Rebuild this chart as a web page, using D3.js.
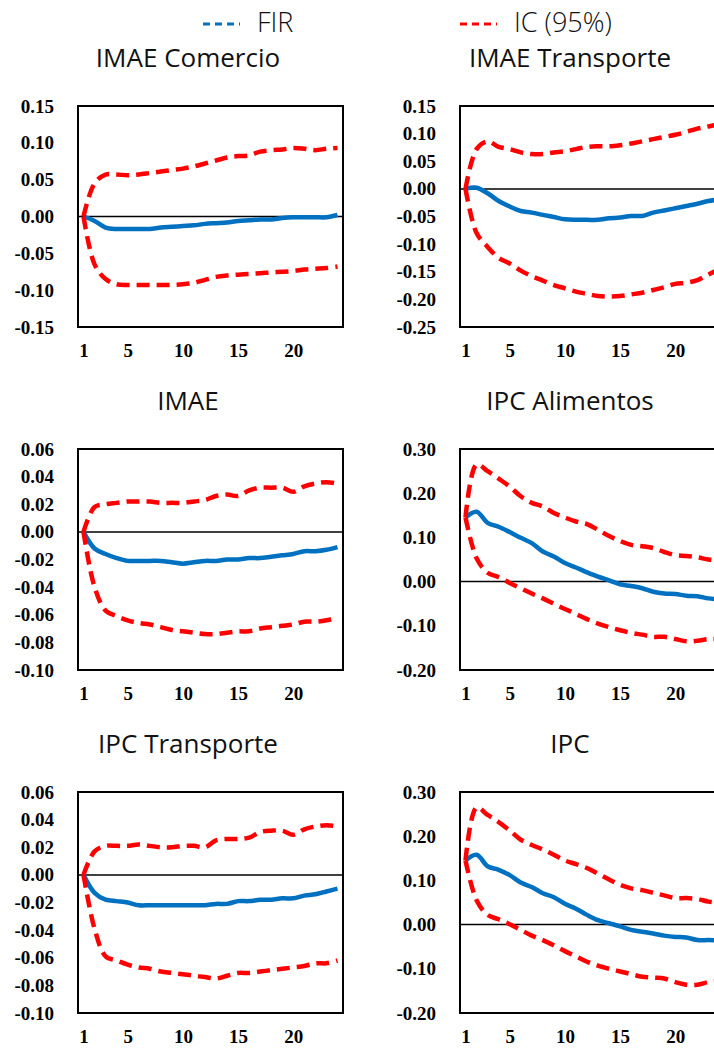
<!DOCTYPE html>
<html><head><meta charset="utf-8">
<script src="https://cdn.jsdelivr.net/npm/d3@7/dist/d3.min.js"></script>
<style>body{margin:0;background:#fff}</style>
</head><body><svg id="c" width="714" height="1051"></svg>
<script>
// ---------- data ----------
const periods = d3.range(1, 25);
const xTickLabels = [1, 5, 10, 15, 20];
const seriesNames = ["FIR", "IC (95%)"];
const titles = ["IMAE Comercio", "IMAE Transporte", "IMAE", "IPC Alimentos", "IPC Transporte", "IPC"];

const yTicksImaeComercio = [-0.15, -0.10, -0.05, 0.00, 0.05, 0.10, 0.15];
const yTicksImaeTransporte = [-0.25, -0.20, -0.15, -0.10, -0.05, 0.00, 0.05, 0.10, 0.15];
const yTicksImae = [-0.10, -0.08, -0.06, -0.04, -0.02, 0.00, 0.02, 0.04, 0.06];
const yTicksIpcAlimentos = [-0.20, -0.10, 0.00, 0.10, 0.20, 0.30];
const yTicksIpcTransporte = [-0.10, -0.08, -0.06, -0.04, -0.02, 0.00, 0.02, 0.04, 0.06];
const yTicksIpc = [-0.20, -0.10, 0.00, 0.10, 0.20, 0.30];

const firImaeComercio = [0, -0.006, -0.015, -0.017, -0.017, -0.017, -0.017, -0.015, -0.014, -0.013, -0.012, -0.010, -0.009, -0.008, -0.006, -0.005, -0.004, -0.004, -0.002, -0.001, -0.001, -0.001, -0.001, 0.002];
const upImaeComercio = [0, 0.045, 0.057, 0.057, 0.056, 0.057, 0.059, 0.061, 0.063, 0.065, 0.068, 0.072, 0.076, 0.080, 0.082, 0.083, 0.088, 0.090, 0.091, 0.093, 0.092, 0.090, 0.092, 0.093];
const loImaeComercio = [0, -0.065, -0.085, -0.092, -0.093, -0.093, -0.093, -0.093, -0.093, -0.092, -0.090, -0.086, -0.082, -0.080, -0.079, -0.078, -0.077, -0.076, -0.075, -0.074, -0.072, -0.071, -0.070, -0.068];

const firImaeTransporte = [0, 0.002, -0.008, -0.022, -0.032, -0.040, -0.043, -0.047, -0.051, -0.055, -0.056, -0.056, -0.056, -0.053, -0.052, -0.049, -0.049, -0.043, -0.039, -0.035, -0.031, -0.027, -0.022, -0.019];
const upImaeTransporte = [0, 0.072, 0.086, 0.076, 0.072, 0.066, 0.063, 0.063, 0.066, 0.068, 0.072, 0.076, 0.077, 0.077, 0.079, 0.082, 0.086, 0.090, 0.094, 0.098, 0.103, 0.109, 0.113, 0.117];
const loImaeTransporte = [0, -0.080, -0.105, -0.125, -0.135, -0.148, -0.158, -0.166, -0.174, -0.180, -0.186, -0.190, -0.194, -0.195, -0.194, -0.191, -0.188, -0.183, -0.178, -0.172, -0.170, -0.165, -0.155, -0.145];

const firImae = [0, -0.012, -0.016, -0.019, -0.021, -0.021, -0.021, -0.021, -0.022, -0.023, -0.022, -0.021, -0.021, -0.020, -0.020, -0.019, -0.019, -0.018, -0.017, -0.016, -0.014, -0.014, -0.013, -0.011];
const upImae = [0, 0.018, 0.020, 0.021, 0.022, 0.022, 0.022, 0.021, 0.021, 0.021, 0.022, 0.023, 0.026, 0.027, 0.026, 0.030, 0.032, 0.032, 0.032, 0.029, 0.033, 0.035, 0.036, 0.035];
const loImae = [0, -0.040, -0.057, -0.061, -0.064, -0.066, -0.067, -0.069, -0.071, -0.072, -0.073, -0.074, -0.074, -0.073, -0.072, -0.072, -0.070, -0.069, -0.068, -0.067, -0.065, -0.065, -0.064, -0.062];

const firIpcAlimentos = [0.145, 0.158, 0.133, 0.124, 0.112, 0.099, 0.087, 0.068, 0.057, 0.042, 0.032, 0.021, 0.011, 0.003, -0.006, -0.010, -0.015, -0.023, -0.027, -0.028, -0.032, -0.033, -0.038, -0.040];
const upIpcAlimentos = [0.145, 0.265, 0.250, 0.233, 0.215, 0.193, 0.178, 0.170, 0.155, 0.145, 0.136, 0.130, 0.117, 0.103, 0.092, 0.083, 0.080, 0.076, 0.067, 0.060, 0.058, 0.055, 0.050, 0.048];
const loIpcAlimentos = [0.145, 0.053, 0.020, 0.010, -0.003, -0.015, -0.027, -0.038, -0.050, -0.062, -0.073, -0.085, -0.095, -0.103, -0.110, -0.116, -0.120, -0.125, -0.125, -0.130, -0.135, -0.134, -0.130, -0.130];

const firIpcTransporte = [0, -0.013, -0.018, -0.019, -0.020, -0.022, -0.022, -0.022, -0.022, -0.022, -0.022, -0.022, -0.021, -0.021, -0.019, -0.019, -0.018, -0.018, -0.017, -0.017, -0.015, -0.014, -0.012, -0.010];
const upIpcTransporte = [0, 0.017, 0.021, 0.021, 0.021, 0.022, 0.021, 0.020, 0.020, 0.021, 0.021, 0.020, 0.025, 0.026, 0.026, 0.027, 0.031, 0.032, 0.032, 0.029, 0.033, 0.035, 0.036, 0.035];
const loIpcTransporte = [0, -0.039, -0.059, -0.062, -0.065, -0.067, -0.068, -0.070, -0.071, -0.072, -0.073, -0.074, -0.075, -0.073, -0.071, -0.071, -0.070, -0.069, -0.068, -0.067, -0.066, -0.064, -0.064, -0.062];

const firIpc = [0.145, 0.158, 0.132, 0.124, 0.112, 0.095, 0.085, 0.071, 0.062, 0.047, 0.036, 0.022, 0.010, 0.003, -0.004, -0.012, -0.016, -0.020, -0.025, -0.028, -0.029, -0.035, -0.035, -0.036];
const upIpc = [0.145, 0.265, 0.248, 0.232, 0.213, 0.192, 0.180, 0.170, 0.158, 0.145, 0.137, 0.128, 0.115, 0.102, 0.090, 0.082, 0.078, 0.072, 0.066, 0.060, 0.060, 0.058, 0.052, 0.050];
const loIpc = [0.145, 0.055, 0.022, 0.012, 0.001, -0.012, -0.025, -0.035, -0.047, -0.060, -0.072, -0.084, -0.093, -0.100, -0.106, -0.112, -0.118, -0.120, -0.122, -0.130, -0.136, -0.136, -0.130, -0.128];

// ---------- layout ----------
const panels = [
  {title: titles[0], yTicks: yTicksImaeComercio, fir: firImaeComercio, up: upImaeComercio, lo: loImaeComercio},
  {title: titles[1], yTicks: yTicksImaeTransporte, fir: firImaeTransporte, up: upImaeTransporte, lo: loImaeTransporte},
  {title: titles[2], yTicks: yTicksImae, fir: firImae, up: upImae, lo: loImae},
  {title: titles[3], yTicks: yTicksIpcAlimentos, fir: firIpcAlimentos, up: upIpcAlimentos, lo: loIpcAlimentos},
  {title: titles[4], yTicks: yTicksIpcTransporte, fir: firIpcTransporte, up: upIpcTransporte, lo: loIpcTransporte},
  {title: titles[5], yTicks: yTicksIpc, fir: firIpc, up: upIpc, lo: loIpc}
];
const colLeft = [78, 460], rowTop = [106, 449, 792];
const W = 265, H = 221;
const BLUE = "#0070C0", RED = "#FF0000";
const titleFont = "'Open Sans', 'Noto Sans', sans-serif";
const tickFont = "'Liberation Serif', 'Times New Roman', serif";

const svg = d3.select("#c");
svg.append("rect").attr("width", 714).attr("height", 1051).attr("fill", "#fff");

// legend
const leg = svg.append("g");
[[203, 257, BLUE, seriesNames[0]], [460, 514, RED, seriesNames[1]]].forEach(([x0, tx, col, name]) => {
  leg.append("line").attr("x1", x0).attr("x2", x0 + 37).attr("y1", 24).attr("y2", 24)
    .attr("stroke", col).attr("stroke-width", 3).attr("stroke-dasharray", "7,5");
  leg.append("text").attr("x", tx).attr("y", 32).text(name)
    .attr("font-family", titleFont).attr("font-weight", 300).attr("font-size", 27).attr("fill", "#111");
});

const x = d3.scalePoint().domain(periods).range([0, W]).padding(0.5);
const fmt = d => (d < -1e-9 ? "-" : "") + Math.abs(d).toFixed(2);

panels.forEach((p, i) => {
  const g = svg.append("g").attr("transform", `translate(${colLeft[i % 2]},${rowTop[Math.floor(i / 2)]})`);
  const y = d3.scaleLinear().domain(d3.extent(p.yTicks)).range([H, 0]);

  g.append("text").attr("x", 110).attr("y", -39).attr("text-anchor", "middle")
    .attr("font-family", titleFont).attr("font-size", 26).attr("fill", "#111").text(p.title);

  const ya = g.append("g").call(d3.axisLeft(y).tickValues(p.yTicks).tickSize(0).tickPadding(24).tickFormat(fmt));
  ya.select(".domain").remove();
  ya.selectAll("text").attr("font-family", tickFont).attr("font-weight", "bold").attr("font-size", 19).attr("fill", "#000");

  const xa = g.append("g").attr("transform", `translate(0,${H})`)
    .call(d3.axisBottom(x).tickValues(xTickLabels).tickSize(0).tickPadding(17));
  xa.select(".domain").remove();
  xa.selectAll("text").attr("font-family", tickFont).attr("font-weight", "bold").attr("font-size", 19).attr("fill", "#000");

  g.append("line").attr("x1", 0).attr("x2", W).attr("y1", y(0)).attr("y2", y(0))
    .attr("stroke", "#000").attr("stroke-width", 1.5);

  const line = d3.line().x((d, j) => x(periods[j])).y(d => y(d)).curve(d3.curveCatmullRom.alpha(0.5));
  g.append("path").attr("d", line(p.fir)).attr("fill", "none").attr("stroke", BLUE).attr("stroke-width", 4.5);
  [p.up, p.lo].forEach(s => {
    g.append("path").attr("d", line(s)).attr("fill", "none").attr("stroke", RED)
      .attr("stroke-width", 4.5).attr("stroke-dasharray", "13,7");
  });

  g.append("rect").attr("width", W).attr("height", H).attr("fill", "none").attr("stroke", "#000").attr("stroke-width", 2);
});
</script>
</body></html>
